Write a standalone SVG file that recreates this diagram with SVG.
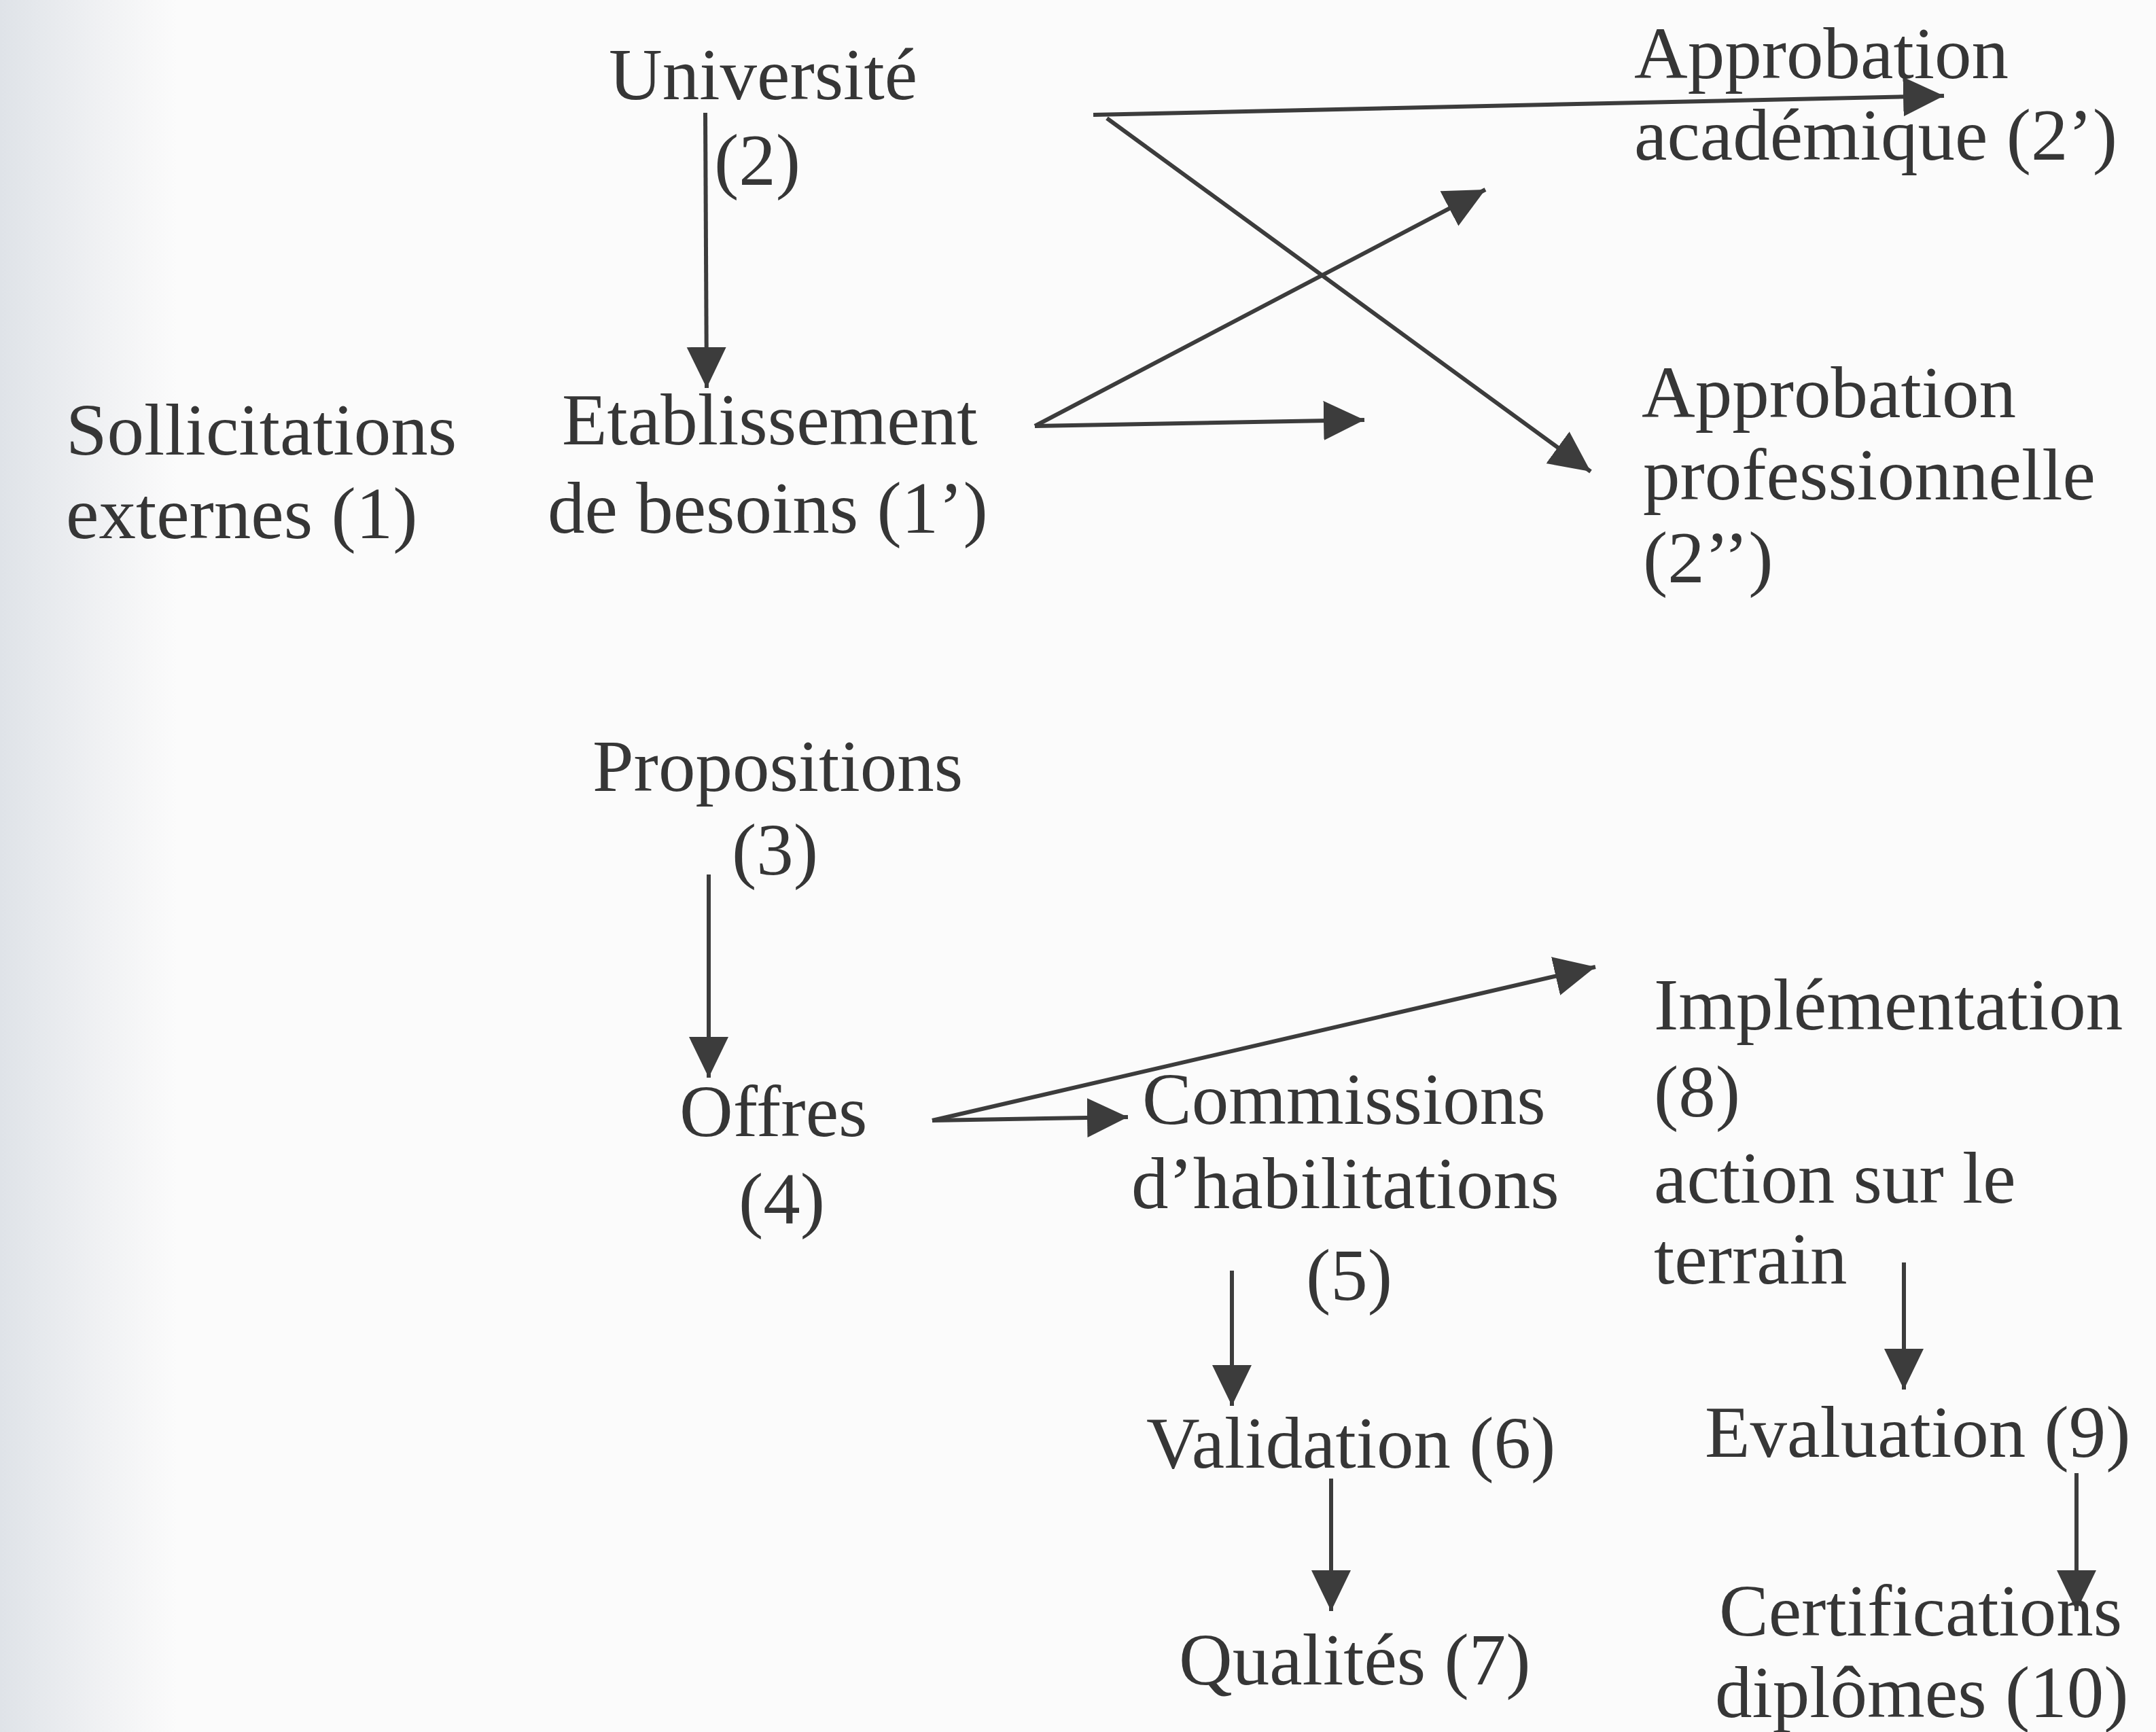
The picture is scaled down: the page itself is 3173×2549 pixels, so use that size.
<svg xmlns="http://www.w3.org/2000/svg" width="3173" height="2549" viewBox="0 0 3173 2549">
<style>
text{font-family:"Liberation Serif","Times New Roman",serif;font-size:109px;fill:#363636}
.c{stroke:#3c3c3c;stroke-width:6;fill:none;marker-end:url(#ah)}
</style>
<defs>
<marker id="ah" markerUnits="userSpaceOnUse" markerWidth="62" markerHeight="60" refX="60" refY="29" orient="auto">
<path d="M0,0 L60,29 L0,58 z" fill="#3c3c3c"/>
</marker>
<linearGradient id="edge" x1="0" y1="0" x2="1" y2="0">
<stop offset="0" stop-color="#dfe3e8"/>
<stop offset="0.6" stop-color="#f1f2f4"/>
<stop offset="1" stop-color="#fbfbfb"/>
</linearGradient>
</defs>
<rect width="3173" height="2549" fill="#fbfbfb"/>
<rect width="260" height="2549" fill="url(#edge)"/>
<g id="connectors">
<path class="c" d="M1038,166 L1040,571"/>
<path class="c" d="M1609,169 L2861,141"/>
<path class="c" d="M1629,174 L2341,694"/>
<path class="c" d="M1523,627 L2186,279"/>
<path class="c" d="M1523,627 L2008,618"/>
<path class="c" d="M1043,1287 L1043,1586"/>
<path class="c" d="M1372,1649 L2348,1423"/>
<path class="c" d="M1372,1649 L1660,1644"/>
<path class="c" d="M1813,1870 L1813,2069"/>
<path class="c" d="M2802,1858 L2802,2045"/>
<path class="c" d="M1959,2176 L1959,2371"/>
<path class="c" d="M3056,2168 L3056,2371"/>
</g>
<g id="n1"><text x="97" y="669">Sollicitations</text><text x="97" y="792">externes (1)</text></g>
<g id="n1p"><text x="827" y="654">Etablissement</text><text x="806" y="784">de besoins (1’)</text></g>
<g id="n2"><text x="896" y="146">Université</text><text x="1051" y="272">(2)</text></g>
<g id="n2p"><text x="2405" y="115">Approbation</text><text x="2405" y="235">académique (2’)</text></g>
<g id="n2pp"><text x="2416" y="614">Approbation</text><text x="2418" y="735">professionnelle</text><text x="2418" y="857">(2’’)</text></g>
<g id="n3"><text x="872" y="1164">Propositions</text><text x="1077" y="1287">(3)</text></g>
<g id="n4"><text x="1000" y="1672">Offres</text><text x="1087" y="1801">(4)</text></g>
<g id="n5"><text x="1681" y="1654">Commissions</text><text x="1665" y="1778">d’habilitations</text><text x="1922" y="1913">(5)</text></g>
<g id="n8"><text x="2434" y="1515">Implémentation</text><text x="2434" y="1643">(8)</text><text x="2434" y="1770">action sur le</text><text x="2434" y="1889">terrain</text></g>
<g id="n6"><text x="1687" y="2160">Validation (6)</text></g>
<g id="n9"><text x="2509" y="2144">Evaluation (9)</text></g>
<g id="n7"><text x="1735" y="2479">Qualités (7)</text></g>
<g id="n10"><text x="2530" y="2407">Certifications</text><text x="2524" y="2527">diplômes (10)</text></g>
</svg>
